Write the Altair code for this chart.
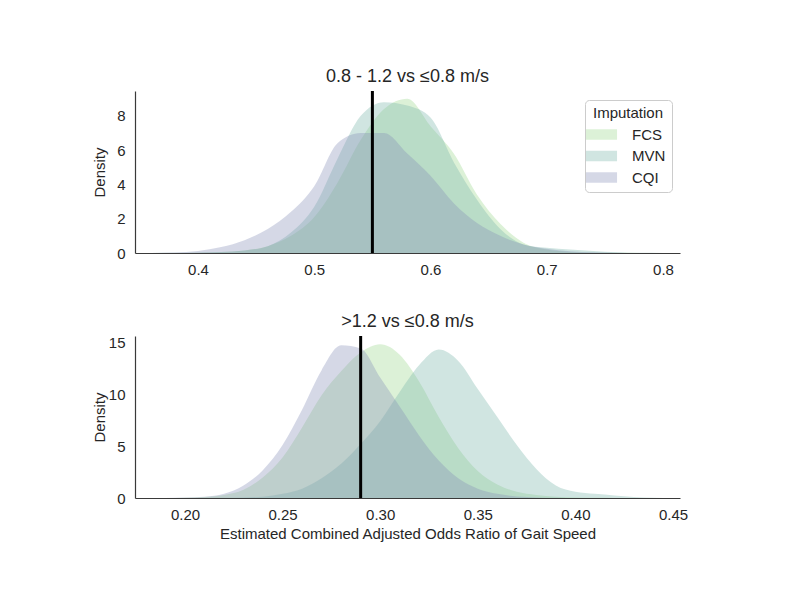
import altair as alt
import pandas as pd

# Imputation methods and their fill colours
methods = ["FCS", "MVN", "CQI"]
fill_colors = ["#9bd78c", "#79b5a9", "#888fb6"]

# Upper panel: 0.8 - 1.2 vs <=0.8 m/s (kernel density of pooled odds ratios)
upper_x = [0.36, 0.38, 0.40, 0.42, 0.44, 0.46, 0.48, 0.50, 0.52, 0.54, 0.56, 0.58,
           0.60, 0.62, 0.64, 0.66, 0.68, 0.70, 0.72, 0.74, 0.76, 0.78, 0.80]
upper_fcs = [0.0, 0.0, 0.02, 0.06, 0.15, 0.4, 1.0, 2.1, 4.1, 6.6, 8.4, 9.0,
             7.4, 5.8, 3.4, 1.7, 0.6, 0.2, 0.06, 0.02, 0.01, 0.0, 0.0]
upper_mvn = [0.0, 0.01, 0.03, 0.06, 0.15, 0.4, 1.2, 2.7, 5.5, 8.0, 8.8, 8.6,
             7.9, 5.3, 3.1, 1.4, 0.5, 0.3, 0.2, 0.12, 0.05, 0.01, 0.0]
upper_cqi = [0.0, 0.03, 0.12, 0.35, 0.75, 1.4, 2.4, 3.9, 6.4, 7.0, 7.0, 5.8,
             4.5, 2.9, 1.75, 1.0, 0.5, 0.25, 0.1, 0.04, 0.01, 0.0, 0.0]
upper_ref = 0.55

# Lower panel: >1.2 vs <=0.8 m/s
lower_x = [0.18, 0.19, 0.20, 0.21, 0.22, 0.23, 0.24, 0.25, 0.26, 0.27, 0.28, 0.29, 0.30, 0.31,
           0.32, 0.33, 0.34, 0.35, 0.36, 0.37, 0.38, 0.39, 0.40, 0.41, 0.42, 0.43, 0.44, 0.45]
lower_fcs = [0.0, 0.01, 0.03, 0.1, 0.3, 0.8, 2.0, 3.9, 6.8, 9.9, 12.2, 14.0, 14.8, 13.8,
             11.2, 7.8, 4.8, 2.6, 1.3, 0.6, 0.3, 0.12, 0.05, 0.02, 0.01, 0.0, 0.0, 0.0]
lower_mvn = [0.0, 0.0, 0.0, 0.01, 0.02, 0.05, 0.13, 0.4, 0.9, 1.9, 3.3, 5.2, 7.4, 10.2,
             12.8, 14.3, 13.2, 10.5, 7.8, 5.1, 2.8, 1.2, 0.6, 0.4, 0.25, 0.1, 0.03, 0.0]
lower_cqi = [0.0, 0.01, 0.05, 0.12, 0.4, 1.2, 2.7, 5.1, 8.5, 12.3, 14.7, 14.4, 11.6, 8.8,
             6.0, 3.6, 1.9, 0.9, 0.4, 0.15, 0.06, 0.02, 0.0, 0.0, 0.0, 0.0, 0.0, 0.0]
lower_ref = 0.29

FONT = "Liberation Sans"
TEXT = "#262626"
OPACITY = 0.35


def long_frame(xs, series):
    rows = []
    for name, ys in zip(methods, series):
        for x, y in zip(xs, ys):
            rows.append({"odds_ratio": x, "density": y, "Imputation": name})
    return pd.DataFrame(rows)


def panel(df, ref, title, xdom, xticks, xfmt, ydom, yticks, xtitle, legend):
    x_axis = dict(values=xticks, format=xfmt, labelPadding=9, titlePadding=4,
                  title=xtitle if xtitle else "")
    area = alt.Chart(df).mark_area(opacity=OPACITY, interpolate="monotone").encode(
        x=alt.X("odds_ratio:Q",
                scale=alt.Scale(domain=xdom, nice=False, zero=False),
                axis=alt.Axis(**x_axis)),
        y=alt.Y("density:Q", stack=None,
                scale=alt.Scale(domain=ydom, nice=False),
                axis=alt.Axis(values=yticks, title="Density", labelPadding=10,
                              minExtent=27, maxExtent=27, titlePadding=1)),
        color=alt.Color("Imputation:N",
                        scale=alt.Scale(domain=methods, range=fill_colors),
                        legend=legend),
    )
    rule = alt.Chart(pd.DataFrame({"odds_ratio": [ref]})).mark_rule(
        color="black", strokeWidth=3
    ).encode(x="odds_ratio:Q")
    return alt.layer(area, rule).properties(
        width=545, height=162,
        title=alt.TitleParams(title, fontSize=18, fontWeight="normal", color=TEXT,
                              font=FONT, offset=4),
    )


legend = alt.Legend(
    title="Imputation", orient="none", legendX=450, legendY=9,
    titleAnchor="middle", titleFontWeight="normal", titleFontSize=15, titleColor=TEXT,
    titleFont=FONT, titlePadding=3,
    labelFontSize=15, labelColor=TEXT, labelFont=FONT, labelOffset=20,
    symbolType="M-1.5,-0.5L1.5,-0.5L1.5,0.5L-1.5,0.5Z", symbolSize=430,
    symbolOpacity=OPACITY, symbolStrokeWidth=0,
    fillColor="white", strokeColor="#cccccc", cornerRadius=4, padding=6,
    rowPadding=2.5,
)

top = panel(long_frame(upper_x, [upper_fcs, upper_mvn, upper_cqi]), upper_ref,
            "0.8 - 1.2 vs \u22640.8 m/s", [0.3458, 0.8146], [0.4, 0.5, 0.6, 0.7, 0.8], ".1f",
            [0, 9.45], [0, 2, 4, 6, 8], None, legend)
bottom = panel(long_frame(lower_x, [lower_fcs, lower_mvn, lower_cqi]), lower_ref,
               ">1.2 vs \u22640.8 m/s", [0.1744, 0.4536], [0.20, 0.25, 0.30, 0.35, 0.40, 0.45], ".2f",
               [0, 15.6], [0, 5, 10, 15],
               "Estimated Combined Adjusted Odds Ratio of Gait Speed", None)

chart = alt.vconcat(top, bottom, spacing=35).resolve_scale(color="independent").properties(
    padding={"left": 92, "top": 67, "right": 10, "bottom": 10},
    background="white",
).configure_view(stroke=None).configure_axis(
    grid=False, ticks=False, domainColor="#3a3a3a", domainWidth=1.2,
    labelFont=FONT, labelFontSize=15, labelColor=TEXT,
    titleFont=FONT, titleFontSize=15, titleColor=TEXT, titleFontWeight="normal",
)

chart.save("out.html", embed_options={"renderer": "svg", "actions": False})
